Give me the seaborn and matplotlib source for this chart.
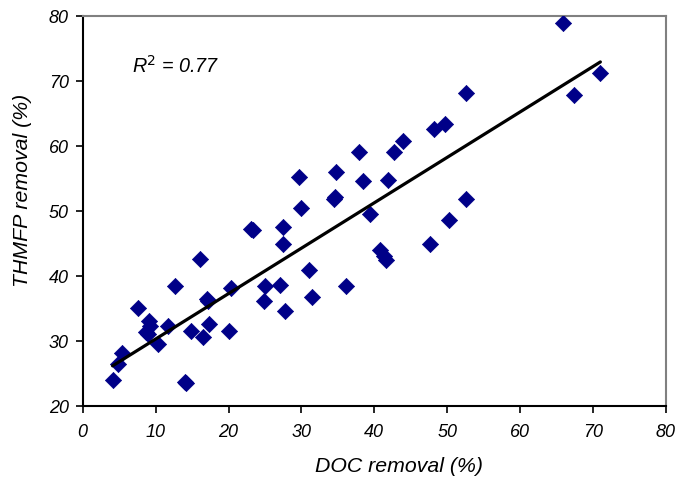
import matplotlib
matplotlib.use("Agg")
import matplotlib.pyplot as plt
import seaborn as sns
import pandas as pd
import numpy as np

doc_removal = [4.1, 4.8, 5.4, 7.6, 9.1, 9.2, 8.7, 8.9, 10.3, 11.7, 12.7, 14.0, 14.2,
               14.8, 16.1, 16.5, 17.0, 17.2, 17.3, 20.0, 20.3, 23.1, 23.3, 24.8, 25.0,
               27.0, 27.5, 27.5, 27.8, 29.9, 29.7, 31.0, 31.4, 34.5, 34.6, 34.8, 36.1,
               37.9, 38.4, 39.4, 40.8, 41.3, 41.6, 41.9, 42.7, 44.0, 47.7, 48.2, 49.7,
               50.3, 52.6, 52.6, 65.9, 67.4, 71.0]
thmfp_removal = [24.0, 26.4, 28.2, 35.1, 33.0, 32.3, 31.3, 31.1, 29.5, 32.3, 38.5, 23.7, 23.5,
                 31.5, 42.6, 30.6, 36.5, 36.2, 32.6, 31.6, 38.2, 47.3, 47.0, 36.1, 38.4,
                 38.6, 47.6, 44.9, 34.6, 50.5, 55.2, 40.9, 36.8, 51.8, 52.1, 56.0, 38.4,
                 59.1, 54.6, 49.5, 44.0, 43.0, 42.5, 54.7, 59.1, 60.7, 44.9, 62.6, 63.4,
                 48.6, 51.8, 68.2, 78.9, 67.8, 71.3]
# trend line as drawn in the figure
fit_slope = 0.699
fit_intercept = 23.3
r2_label = "R$^2$ = 0.77"
x_ticks = [0, 10, 20, 30, 40, 50, 60, 70, 80]
y_ticks = [20, 30, 40, 50, 60, 70, 80]

df = pd.DataFrame({"DOC": doc_removal, "THMFP": thmfp_removal})
x_line = np.array([min(doc_removal), max(doc_removal)])
line_df = pd.DataFrame({"DOC": x_line, "THMFP": fit_intercept + fit_slope * x_line})

sns.set_style("white")
plt.rcParams["font.family"] = ["Liberation Sans", "DejaVu Sans"]
plt.rcParams["text.color"] = "black"
plt.rcParams["axes.labelcolor"] = "black"
plt.rcParams["xtick.color"] = "black"
plt.rcParams["ytick.color"] = "black"

fig = plt.figure(figsize=(6.89, 4.81), dpi=100)
ax = fig.add_axes([0.12, 0.154, 0.8466, 0.8107])

sns.scatterplot(data=df, x="DOC", y="THMFP", marker="D", s=68, color="#000088",
                edgecolor="#000088", linewidth=0.5, ax=ax, zorder=3)
sns.lineplot(data=line_df, x="DOC", y="THMFP", color="black", lw=2.3, ax=ax, zorder=4)

ax.set_xlim(0, 80)
ax.set_ylim(20, 80)
ax.set_xticks(x_ticks)
ax.set_yticks(y_ticks)
ax.set_xticklabels([str(t) for t in x_ticks], fontstyle="italic", fontsize=13)
ax.set_yticklabels([str(t) for t in y_ticks], fontstyle="italic", fontsize=13)
ax.tick_params(axis="x", direction="out", length=5, width=1.2, bottom=True, pad=7)
ax.tick_params(axis="y", direction="out", length=5, width=1.2, left=True, pad=5)
ax.set_xlabel("DOC removal (%)", fontstyle="italic", fontsize=15.3)
ax.set_ylabel("THMFP removal (%)", fontstyle="italic", fontsize=15.3)
ax.xaxis.set_label_coords(0.542, -0.128)
ax.yaxis.set_label_coords(-0.087, 0.556)

for side in ["left", "bottom"]:
    ax.spines[side].set_color("black")
    ax.spines[side].set_linewidth(1.5)
for side in ["top", "right"]:
    ax.spines[side].set_color("#808080")
    ax.spines[side].set_linewidth(1.5)

ax.text(6.8, 72.5, r2_label, fontstyle="italic", fontsize=14.2, ha="left", va="center")

fig.savefig("out.png", dpi=100)
